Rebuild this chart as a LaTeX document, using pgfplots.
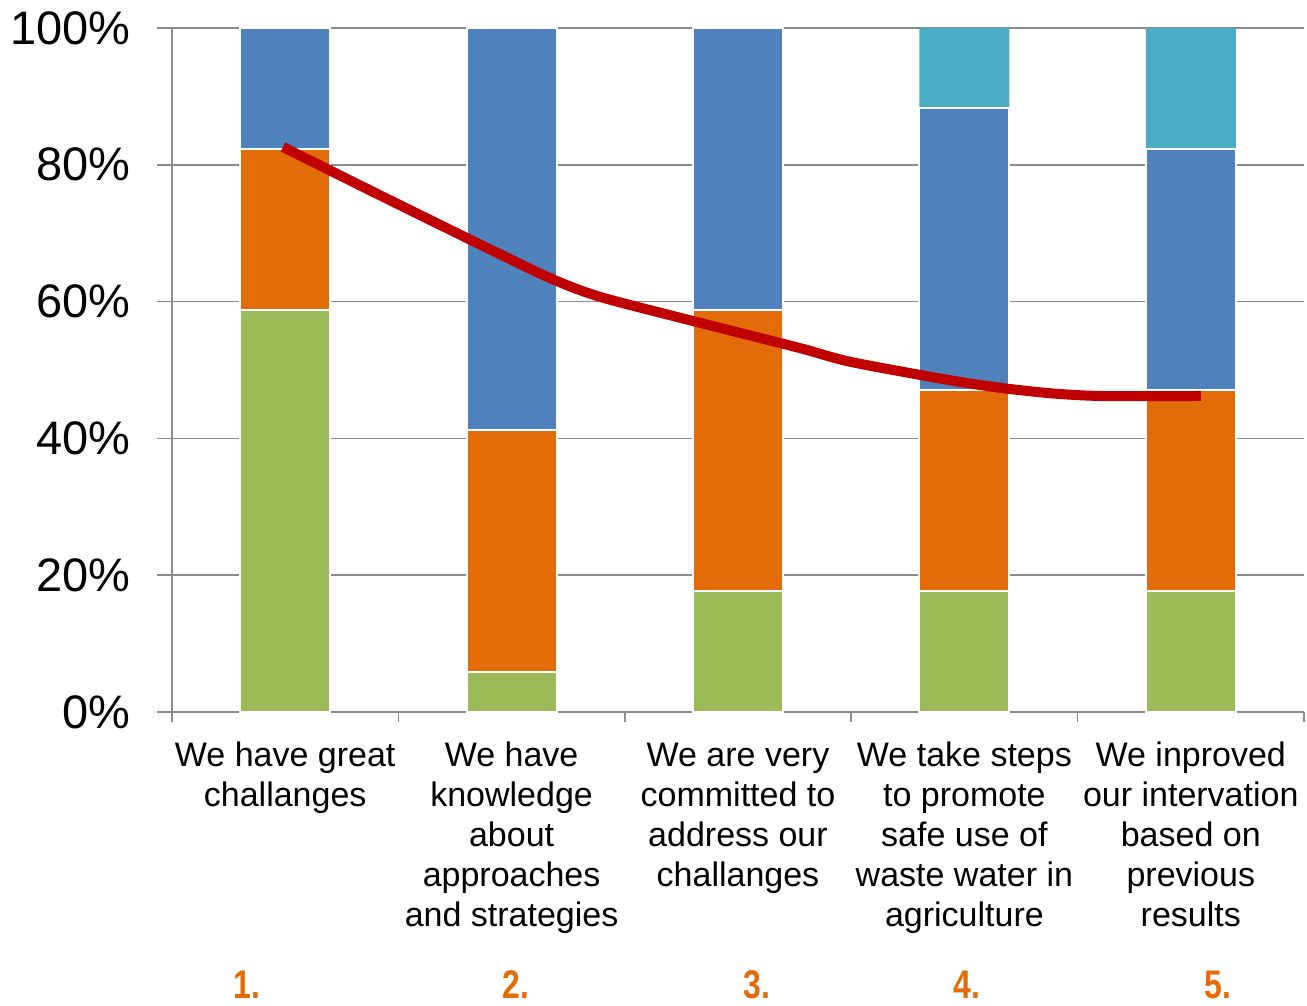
\documentclass[border=0pt]{standalone}
\usepackage{pgfplots}
\pgfplotsset{compat=1.18}
\usepackage{fontspec}
\setmainfont{Liberation Sans}
\newfontfamily\numfont{Liberation Sans}[FakeStretch=0.8]
\definecolor{cgreen}{HTML}{9BBB59}
\definecolor{corange}{HTML}{E36C09}
\definecolor{cblue}{HTML}{4F81BD}
\definecolor{cteal}{HTML}{4BACC6}
\definecolor{cred}{HTML}{C00000}
\definecolor{axgray}{HTML}{8C8C8C}
\definecolor{numorange}{HTML}{E36C09}
\pgfplotstableread{
x green orange blue teal
0 58.82 23.53 17.65 0
1 5.88 35.29 58.82 0
2 17.65 41.18 41.18 0
3 17.65 29.41 41.18 11.76
4 17.65 29.41 35.29 17.65
}\datatable
\begin{document}
\begin{tikzpicture}
\begin{axis}[
  at={(0,0)}, anchor=south west,
  scale only axis, width=566pt, height=342pt,
  xmin=-0.5, xmax=4.5, ymin=0, ymax=100,
  ybar stacked, bar width=45pt,
  axis lines*=left,
  axis line style={draw=axgray, line width=0.8pt},
  ymajorgrids, grid style={draw=axgray, line width=0.8pt},
  tick align=outside,
  ytick={0,20,40,60,80,100},
  yticklabels={0\%,20\%,40\%,60\%,80\%,100\%},
  ytick style={draw=axgray, line width=0.8pt},
  major tick length=7.5pt,
  yticklabel style={font=\fontsize{23.5}{23.5}\selectfont, anchor=east, inner sep=0pt, xshift=-13pt},
  xtick={0,1,2,3,4},
  xticklabels={
    \strut We have great\\challanges,
    \strut We have\\knowledge\\about\\approaches\\and strategies,
    \strut We are very\\committed to\\address our\\challanges,
    \strut We take steps\\to promote\\safe use of\\waste water in\\agriculture,
    \strut We inproved\\our intervation\\based on\\previous\\results},
  xticklabel style={font=\fontsize{17}{20}\selectfont, align=center, anchor=north, inner sep=0pt, yshift=-5.5pt},
  x tick style={draw=none},
  minor xtick={-0.5,0.5,1.5,2.5,3.5,4.5},
  minor x tick style={draw=axgray, line width=0.8pt},
  minor tick length=5pt,
  clip=false,
]
\addplot[fill=cgreen, draw=white, line width=1pt] table[x=x, y=green]{\datatable};
\addplot[fill=corange, draw=white, line width=1pt] table[x=x, y=orange]{\datatable};
\addplot[fill=cblue, draw=white, line width=1pt] table[x=x, y=blue]{\datatable};
\addplot[fill=cteal, draw=none] table[x=x, y=teal]{\datatable};
\node[anchor=base, text=numorange, font=\numfont\bfseries\fontsize{20}{20}\selectfont, yshift=-143pt] at (axis cs:-0.169,0) {1.};
\node[anchor=base, text=numorange, font=\numfont\bfseries\fontsize{20}{20}\selectfont, yshift=-143pt] at (axis cs:1.019,0) {2.};
\node[anchor=base, text=numorange, font=\numfont\bfseries\fontsize{20}{20}\selectfont, yshift=-143pt] at (axis cs:2.084,0) {3.};
\node[anchor=base, text=numorange, font=\numfont\bfseries\fontsize{20}{20}\selectfont, yshift=-143pt] at (axis cs:3.011,0) {4.};
\node[anchor=base, text=numorange, font=\numfont\bfseries\fontsize{20}{20}\selectfont, yshift=-143pt] at (axis cs:4.120,0) {5.};
\end{axis}
\begin{axis}[
  at={(0,0)}, anchor=south west,
  scale only axis, width=566pt, height=342pt,
  xmin=-0.5, xmax=4.5, ymin=0, ymax=100,
  hide axis, clip=false,
]
\addplot[smooth, tension=0.4, draw=cred, line width=5pt, mark=none] coordinates {
  (-0.01,82.6) (0.507,74.1) (1.139,63.9) (1.390,60.7) (1.832,56.9) (2.274,53.2)
  (2.495,51.2) (2.936,48.5) (3.157,47.4) (3.378,46.6) (3.599,46.2) (4.045,46.2)
};
\end{axis}
\pgfresetboundingbox
\path[use as bounding box] (-86pt,-147pt) rectangle (567.5pt,356pt);
\end{tikzpicture}
\end{document}
